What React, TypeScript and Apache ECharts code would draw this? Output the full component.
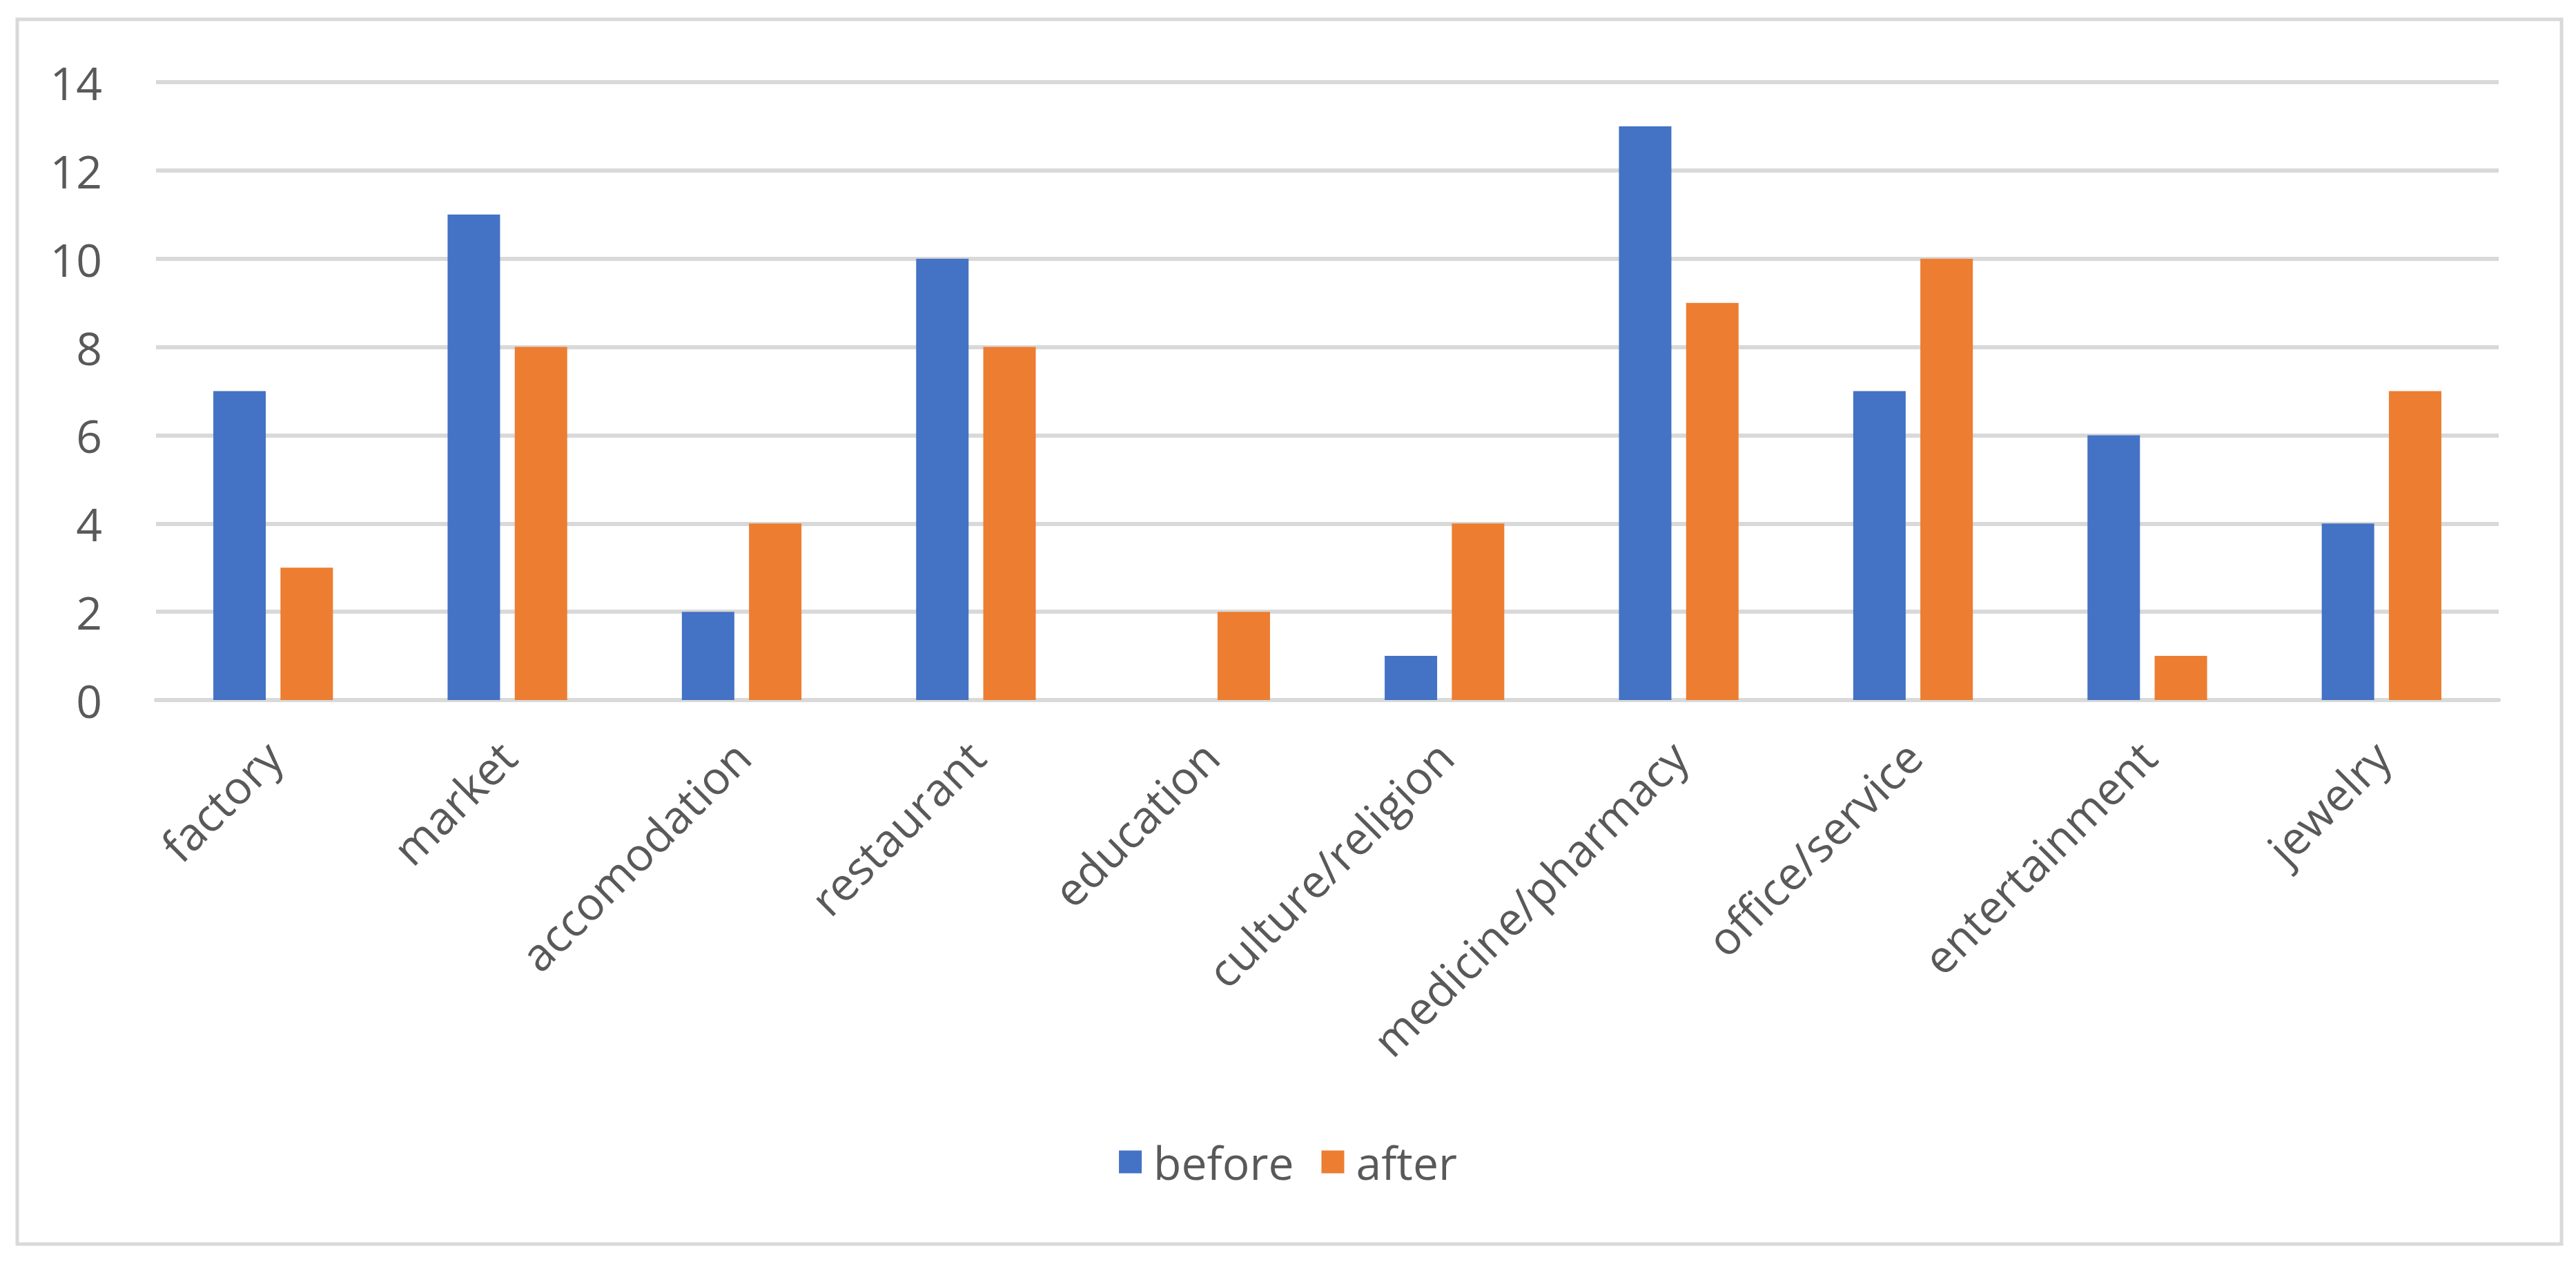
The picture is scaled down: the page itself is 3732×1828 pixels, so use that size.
import React, { useEffect, useRef } from "react";
import * as echarts from "echarts";

const categories = [
  "factory",
  "market",
  "accomodation",
  "restaurant",
  "education",
  "culture/religion",
  "medicine/pharmacy",
  "office/service",
  "entertainment",
  "jewelry",
];
const beforeValues = [7, 11, 2, 10, 0, 1, 13, 7, 6, 4];
const afterValues = [3, 8, 4, 8, 2, 4, 9, 10, 1, 7];
const seriesNames = ["before", "after"];
const yTicks = { min: 0, max: 14, interval: 2 };

const FONT = "'Open Sans', 'Liberation Sans', sans-serif";
const TEXT = "#595959";
const GRID = "#D9D9D9";

export default function App() {
  const ref = useRef<HTMLDivElement>(null);
  useEffect(() => {
    if (!ref.current) return;
    const chart = echarts.init(ref.current, undefined, { renderer: "svg" });
    chart.setOption({
      animation: false,
      backgroundColor: "#ffffff",
      textStyle: { fontFamily: FONT },
      graphic: [
        {
          type: "rect",
          shape: { x: 25, y: 28, width: 3686, height: 1774 },
          style: { fill: "none", stroke: GRID, lineWidth: 5 },
          silent: true,
        },
      ],
      grid: { left: 226, right: 112, top: 119, bottom: 814, containLabel: false },
      legend: {
        data: seriesNames,
        left: "center",
        top: 1645,
        icon: "rect",
        itemWidth: 33,
        itemHeight: 33,
        itemGap: 40,
        textStyle: { fontSize: 66, color: TEXT, fontFamily: FONT, padding: [0, 0, 0, 12] },
      },
      xAxis: {
        type: "category",
        data: categories,
        axisLine: { show: true, lineStyle: { color: GRID, width: 6 } },
        axisTick: { show: false },
        axisLabel: {
          rotate: 45,
          margin: 70,
          fontSize: 66,
          color: TEXT,
          fontFamily: FONT,
          interval: 0,
        },
      },
      yAxis: {
        type: "value",
        min: yTicks.min,
        max: yTicks.max,
        interval: yTicks.interval,
        axisLine: { show: false },
        axisTick: { show: false },
        splitLine: { lineStyle: { color: GRID, width: 6 } },
        axisLabel: { fontSize: 66, color: TEXT, fontFamily: FONT, margin: 78 },
      },
      series: [
        {
          name: seriesNames[0],
          type: "bar",
          data: beforeValues,
          barWidth: 76,
          barGap: "28%",
          itemStyle: { color: "#4472C4" },
        },
        {
          name: seriesNames[1],
          type: "bar",
          data: afterValues,
          barWidth: 76,
          barGap: "28%",
          itemStyle: { color: "#ED7D31" },
        },
      ],
    });
    return () => chart.dispose();
  }, []);
  return (
    <div
      ref={ref}
      style={{ position: "absolute", left: 0, top: 0, width: 3732, height: 1828 }}
    />
  );
}
